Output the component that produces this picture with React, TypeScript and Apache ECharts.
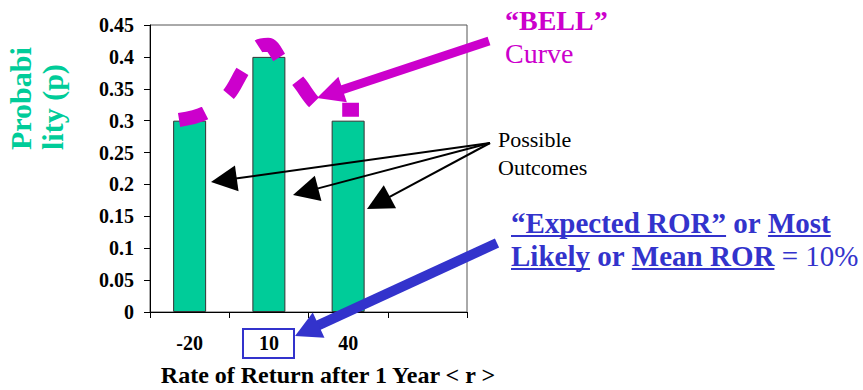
import React, { useEffect, useRef } from "react";
import * as echarts from "echarts";

// ---- data ----
const categories: string[] = ["-20", "10", "40", ""];
const probabilities: (number | null)[] = [0.3, 0.4, 0.3, null];
const yTickLabels: string[] = ["0", "0.05", "0.1", "0.15", "0.2", "0.25", "0.3", "0.35", "0.4", "0.45"];
// hand-drawn "bell" curve (x on a hidden value axis spanning the categories, y = probability)
const bellX: number[] = [-24.0, -14.2, -5.5, -0.2, 5.9, 9.7, 14.6, 21.8, 27.8, 33.1, 38.8, 44.1];
const bellY: number[] = [0.301, 0.312, 0.34, 0.376, 0.416, 0.419, 0.395, 0.358, 0.326, 0.318, 0.317, 0.317];

const yAxisTitle = "Probabi\nlity (p)";
const xAxisTitle = "Rate of Return after 1 Year < r >";
const bellTitle = "“BELL”";
const bellSub = "Curve";
const meanLine1: [string, boolean, boolean][] = [
  ["“Expected ROR”", true, true],
  [" or ", true, false],
  ["Most", true, true],
];
const meanLine2: [string, boolean, boolean][] = [
  ["Likely", true, true],
  [" or ", true, false],
  ["Mean ROR", true, true],
  [" = 10%", false, false],
];

const SERIF = "Liberation Serif, Times New Roman, serif";
const TEAL = "#00CC99";
const MAGENTA = "#CC00CC";
const BLUE = "#3333CC";

function measure(text: string, font: string): number {
  const c = document.createElement("canvas");
  const ctx = c.getContext("2d");
  if (!ctx) return text.length * 14;
  ctx.font = font;
  return ctx.measureText(text).width;
}

function textEl(text: string, x: number, y: number, font: string, fill: string, align = "left", valign = "middle", extra: any = {}, styleExtra: any = {}) {
  return {
    type: "text",
    z: 100,
    x,
    y,
    ...extra,
    style: {
      text,
      font,
      fill,
      align,
      verticalAlign: valign,
      textAlign: align,
      textVerticalAlign: valign,
      ...styleExtra,
    },
  };
}

function arrow(x1: number, y1: number, x2: number, y2: number, w: number, hl: number, hw: number, color: string) {
  const dx = x2 - x1;
  const dy = y2 - y1;
  const L = Math.hypot(dx, dy);
  const ux = dx / L;
  const uy = dy / L;
  const px = -uy;
  const py = ux;
  const bx = x2 - ux * hl;
  const by = y2 - uy * hl;
  return [
    {
      type: "line",
      z: 100,
      shape: { x1, y1, x2: bx + ux * 3, y2: by + uy * 3 },
      style: { stroke: color, lineWidth: w, lineCap: "butt" },
    },
    {
      type: "polygon",
      z: 100,
      shape: {
        points: [
          [x2, y2],
          [bx + (px * hw) / 2, by + (py * hw) / 2],
          [bx - (px * hw) / 2, by - (py * hw) / 2],
        ],
      },
      style: { fill: color },
    },
  ];
}

function richLine(segs: [string, boolean, boolean][], x0: number, baseline: number, size: number, color: string) {
  const els: any[] = [];
  let x = x0;
  for (const [t, bold, under] of segs) {
    const font = `${bold ? "bold " : ""}${size}px ${SERIF}`;
    const w = measure(t, font);
    els.push(textEl(t, x, baseline - size * 0.34, font, color, "left", "middle"));
    if (under) {
      els.push({
        type: "line",
        z: 100,
        shape: { x1: x, y1: baseline + 3, x2: x + w, y2: baseline + 3 },
        style: { stroke: color, lineWidth: 2 },
      });
    }
    x += w;
  }
  return els;
}

export default function App() {
  const ref = useRef<HTMLDivElement>(null);

  useEffect(() => {
    if (!ref.current) return;
    const chart = echarts.init(ref.current, null, { renderer: "svg" });

    const graphics: any[] = [
      textEl(yAxisTitle, 36, 150, `bold 30px ${SERIF}`, TEAL, "left", "middle", { rotation: Math.PI / 2 }, { lineHeight: 32 }),
      textEl(xAxisTitle, 328, 375, `bold 24px ${SERIF}`, "#000", "center", "middle"),
      textEl(bellTitle, 505, 30.5 - 28 * 0.34, `bold 28px ${SERIF}`, MAGENTA),
      textEl(bellSub, 505, 63 - 28 * 0.34, `28px ${SERIF}`, MAGENTA),
      textEl("Possible", 498, 147 - 22 * 0.34, `22px ${SERIF}`, "#000"),
      textEl("Outcomes", 498, 175 - 22 * 0.34, `22px ${SERIF}`, "#000"),
      ...arrow(489, 41, 317, 98, 9, 27, 27, MAGENTA),
      ...arrow(490, 143, 211, 182, 2, 26, 26, "#000"),
      ...arrow(490, 143, 293, 195, 2, 26, 26, "#000"),
      ...arrow(490, 143, 367, 209, 2, 26, 26, "#000"),
      ...arrow(497, 243, 295, 336, 10, 26, 28, BLUE),
      {
        type: "rect",
        z: 100,
        shape: { x: 243, y: 329, width: 51, height: 29 },
        style: { fill: "none", stroke: BLUE, lineWidth: 2 },
      },
      ...richLine(meanLine1, 511, 233, 29, BLUE),
      ...richLine(meanLine2, 511, 266, 29, BLUE),
    ];

    chart.setOption({
      animation: false,
      backgroundColor: "#fff",
      grid: {
        left: 150,
        top: 25,
        width: 317,
        height: 287,
        show: true,
        borderColor: "#555",
        borderWidth: 1,
        backgroundColor: "transparent",
      },
      xAxis: [
        {
          type: "category",
          data: categories,
          axisLine: { onZero: false, lineStyle: { color: "#000", width: 1 } },
          axisTick: { show: true, length: 6, lineStyle: { color: "#000" } },
          axisLabel: {
            fontFamily: SERIF,
            fontWeight: "bold",
            fontSize: 20,
            color: "#000",
            margin: 21,
          },
        },
        {
          type: "value",
          min: -35,
          max: 85,
          show: false,
          position: "bottom",
          axisLine: { onZero: false },
        },
      ],
      yAxis: {
        type: "value",
        min: 0,
        max: 0.45,
        interval: 0.05,
        splitLine: { show: false },
        axisLine: { show: true, onZero: false, lineStyle: { color: "#000", width: 1 } },
        axisTick: { show: true, length: 6, lineStyle: { color: "#000" } },
        axisLabel: {
          fontFamily: SERIF,
          fontWeight: "bold",
          fontSize: 20,
          color: "#000",
          margin: 16,
          formatter: (v: number) => yTickLabels[Math.round(v / 0.05)] ?? "",
        },
      },
      series: [
        {
          type: "bar",
          xAxisIndex: 0,
          data: probabilities,
          barWidth: 33,
          itemStyle: { color: TEAL, borderColor: "#333", borderWidth: 1 },
        },
        {
          type: "line",
          xAxisIndex: 1,
          data: bellX.map((x, i) => [x, bellY[i]]),
          smooth: 0.35,
          symbol: "none",
          lineStyle: { color: MAGENTA, width: 14, type: [27, 30], cap: "butt" },
          z: 3,
        },
      ],
      graphic: { elements: graphics },
    });

    return () => chart.dispose();
  }, []);

  return (
    <div
      ref={ref}
      style={{ position: "absolute", left: 0, top: 0, width: 863, height: 390 }}
    />
  );
}
